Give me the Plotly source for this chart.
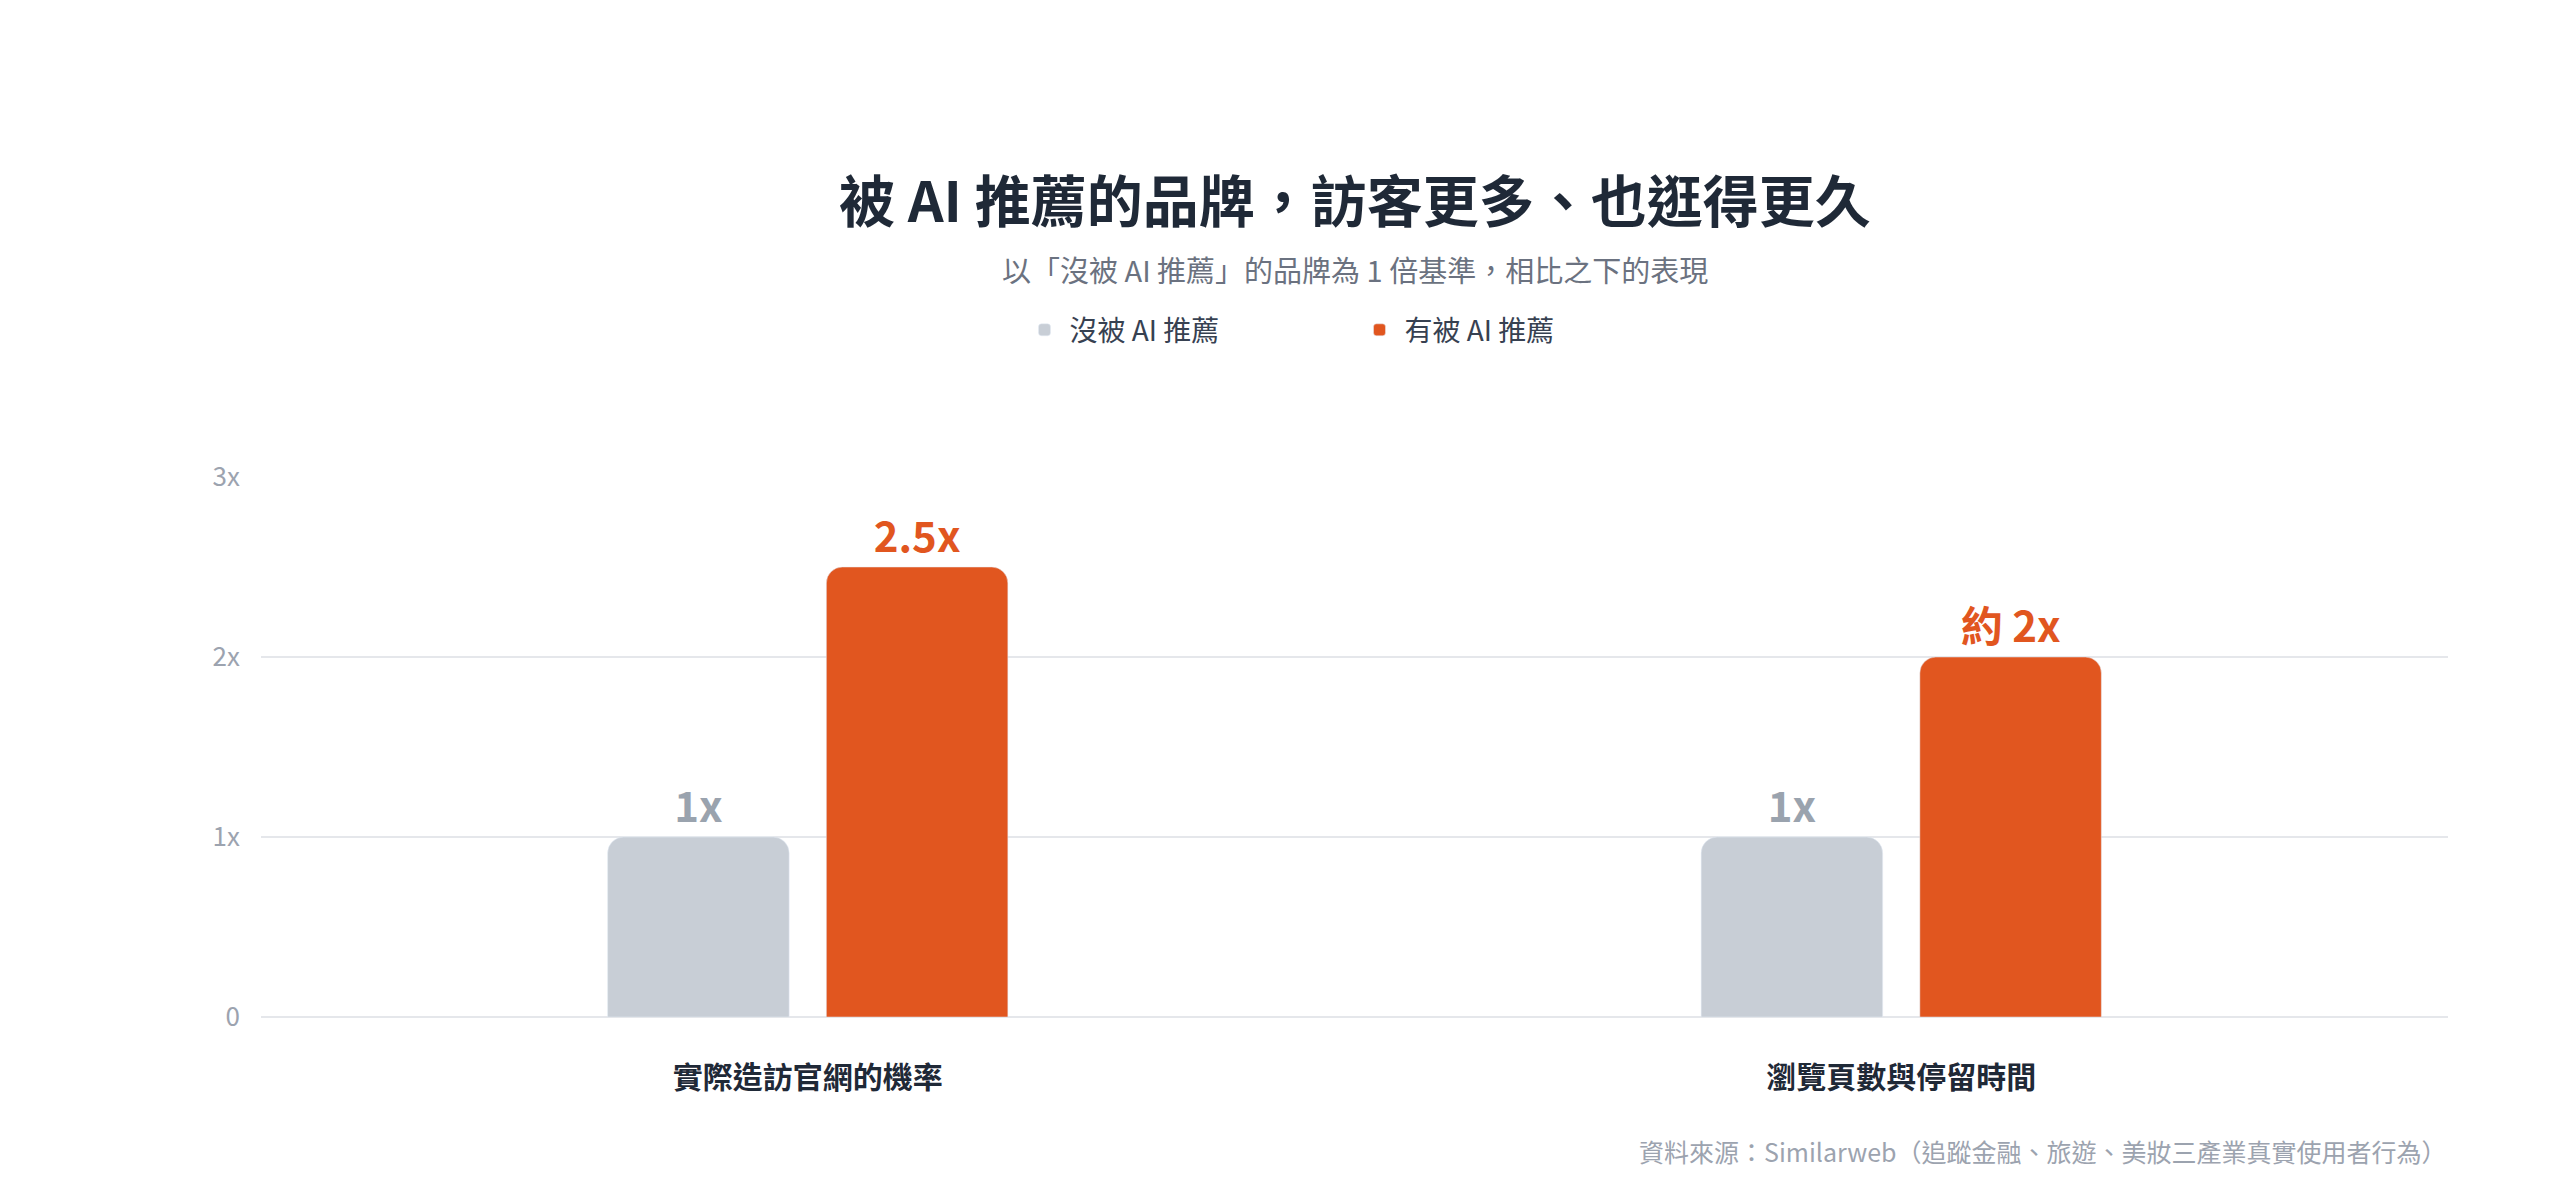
import plotly.graph_objects as go

categories = ["實際造訪官網的機率", "瀏覽頁數與停留時間"]
not_recommended = [1, 1]
recommended = [2.5, 2]
not_rec_labels = ["1x", "1x"]
rec_labels = ["2.5x", "約 2x"]
tick_vals = [0, 1, 2, 3]
tick_text = ["0", "1x", "2x", "3x"]

FONT = "Noto Sans CJK TC"
GRAY = "#C8CED6"
ORANGE = "#E1561F"

fig = go.Figure()
fig.add_trace(go.Bar(
    x=categories, y=not_recommended, name="沒被 AI 推薦",
    marker=dict(color=GRAY, cornerradius=16),
    text=not_rec_labels, textposition="outside", cliponaxis=False,
    textfont=dict(family=FONT, size=42, color="#9AA3AE", weight="bold"),
    hoverinfo="skip",
))
fig.add_trace(go.Bar(
    x=categories, y=recommended, name="有被 AI 推薦",
    marker=dict(color=ORANGE, cornerradius=16),
    text=rec_labels, textposition="outside", cliponaxis=False,
    textfont=dict(family=FONT, size=42, color=ORANGE, weight="bold"),
    hoverinfo="skip",
))

fig.update_layout(
    width=2560, height=1198,
    paper_bgcolor="white", plot_bgcolor="white",
    margin=dict(l=253, r=120, t=469, b=189),
    barmode="group", bargap=0.6, bargroupgap=0.17,
    font=dict(family=FONT, color="#1F2937"),
    showlegend=True,
    legend=dict(orientation="h", x=0.5, xanchor="center", y=1.272, yanchor="middle",
                font=dict(size=28, color="#374151"), itemwidth=40,
                entrywidthmode="pixels", entrywidth=280),
    annotations=[
        dict(text="<b>被 AI 推薦的品牌，訪客更多、也逛得更久</b>", x=0.5, y=1.596,
             xref="paper", yref="paper", showarrow=False,
             font=dict(size=56, color="#1F2937")),
        dict(text="以「沒被 AI 推薦」的品牌為 1 倍基準，相比之下的表現", x=0.5, y=1.428,
             xref="paper", yref="paper", showarrow=False,
             font=dict(size=29, color="#6B7280")),
        dict(text="資料來源：Similarweb（追蹤金融、旅遊、美妝三產業真實使用者行為）",
             x=1, xanchor="right", y=-0.285, xref="paper", yref="paper",
             showarrow=False, font=dict(size=25, color="#9CA3AF")),
    ],
)
fig.update_yaxes(range=[0, 3], tickvals=tick_vals, ticktext=tick_text,
                 gridcolor="#E5E7EB", gridwidth=2, zeroline=True,
                 zerolinecolor="#E5E7EB", zerolinewidth=2,
                 tickfont=dict(size=26, color="#9CA3AF"), ticklabelstandoff=20)
fig.update_xaxes(tickfont=dict(size=30, color="#1F2937", weight="bold"),
                 ticklabelstandoff=40, showline=False)

fig.write_html("out.html")
